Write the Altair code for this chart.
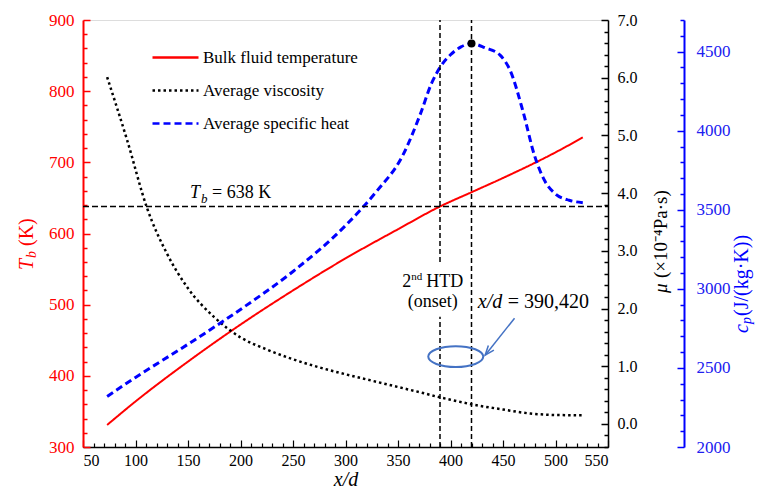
import altair as alt
import pandas as pd

FONT = "Liberation Serif"

# ---------------- data ----------------
t_xd = [73, 100, 150, 200, 250, 300, 350, 390, 420, 450, 500, 526]
t_val = [331, 364, 420, 472, 520, 565, 606, 638, 658, 678, 714, 735]

mu_xd = [73, 92, 111, 130, 150, 175, 200, 225, 250, 275, 300, 325, 350, 375, 390, 400, 420, 450, 476, 500, 526]
mu_val = [6.01, 4.92, 3.74, 2.95, 2.35, 1.85, 1.50, 1.29, 1.12, 0.98, 0.86, 0.75, 0.64, 0.53, 0.46, 0.42, 0.34, 0.25, 0.18, 0.155, 0.15]

cp_xd = [73, 100, 150, 200, 250, 300, 330, 354, 371, 382, 390, 400, 410, 420, 433, 447, 457, 469, 480, 490, 500, 513, 526]
cp_val = [2320, 2440, 2650, 2870, 3110, 3400, 3620, 3837, 4100, 4300, 4400, 4480, 4530, 4551, 4524, 4479, 4378, 4123, 3843, 3680, 3600, 3560, 3545]

series_names = ["Bulk fluid temperature", "Average viscosity", "Average specific heat"]
series_colors = ["#FF0000", "#000000", "#0000FF"]
series_dashes = [[1, 0], [2.5, 3], [7, 4]]

x_domain = [50, 550]
t_domain = [300, 900]
mu_domain = [-0.4, 7.0]
cp_domain = [2000, 4700]

x_major = [50, 100, 150, 200, 250, 300, 350, 400, 450, 500, 550]
x_minor = list(range(50, 551, 10))
t_major = [300, 400, 500, 600, 700, 800, 900]
t_minor = list(range(300, 901, 20))
mu_major = [0, 1, 2, 3, 4, 5, 6, 7]
mu_minor = [round(-0.4 + 0.2 * i, 1) for i in range(38)]
cp_major = [2000, 2500, 3000, 3500, 4000, 4500]
cp_minor = list(range(2000, 4701, 100))

tb_value = 638
htd_onset, htd_peak = 390, 420
peak_cp = 4551
gap_lo, gap_hi = 483, 560          # gap of the onset line behind its label
ellipse_xd, ellipse_t = 405, 427
arrow_from = (461, 481)
arrow_to = (433, 429)

W, H = 525, 427
RED, BLUE, ANN = "#FF0000", "#0000FF", "#4472C4"

df_t = pd.DataFrame({"xd": t_xd, "val": t_val, "series": series_names[0]})
df_mu = pd.DataFrame({"xd": mu_xd, "val": mu_val, "series": series_names[1]})
df_cp = pd.DataFrame({"xd": cp_xd, "val": cp_val, "series": series_names[2]})

xs = alt.Scale(domain=x_domain, nice=False, zero=False)
ts = alt.Scale(domain=t_domain, nice=False, zero=False)
ms = alt.Scale(domain=mu_domain, nice=False, zero=False)
cs = alt.Scale(domain=cp_domain, nice=False, zero=False)


def major(test, big=7, small=4):
    return {"condition": {"test": test, "value": big}, "value": small}


leg = alt.Legend(title=None, orient="none", legendX=68, legendY=13, symbolType="stroke",
                 symbolSize=2116, symbolStrokeWidth=2.5, labelFont=FONT, labelFontSize=17,
                 labelColor="black", labelOffset=3, rowPadding=-18, padding=0, labelLimit=400)
color_enc = alt.Color("series:N", scale=alt.Scale(domain=series_names, range=series_colors), legend=leg)
dash_enc = alt.StrokeDash("series:N", scale=alt.Scale(domain=series_names, range=series_dashes), legend=leg)

x_main = alt.X("xd:Q", scale=xs, axis=alt.Axis(
    values=x_major, ticks=False, grid=False, domainColor="black", domainWidth=1.5,
    labelFont=FONT, labelFontSize=16, labelColor="black", labelPadding=5,
    title="x/d", titleFont=FONT, titleFontSize=20, titleFontStyle="italic", titleFontWeight="normal",
    titleColor="black", titleBaseline="middle", titleY=32))
x_none = alt.X("xd:Q", scale=xs, axis=None)

red = alt.Chart(df_t).mark_line(strokeWidth=2, interpolate="monotone").encode(
    x=x_main,
    y=alt.Y("val:Q", scale=ts, axis=alt.Axis(
        orient="left", values=t_major, ticks=False, grid=False, domainColor=RED, domainWidth=2,
        labelFont=FONT, labelFontSize=17, labelColor=RED, labelPadding=9, title=None)),
    color=color_enc, strokeDash=dash_enc)

t_ticks = alt.Chart(df_t).mark_line(opacity=0).encode(
    x=alt.X("xd:Q", scale=xs, axis=alt.Axis(
        orient="top", offset=-H, values=x_minor, labels=False, domain=False, grid=False,
        tickColor="black", tickWidth=1.2, tickSize=major("datum.value % 50 === 0"), title=None)),
    y=alt.Y("val:Q", scale=ts, axis=alt.Axis(
        orient="right", offset=-W, values=t_minor, labels=False, domain=False, grid=False,
        tickColor=RED, tickWidth=1.5, tickSize=major("datum.value % 100 === 0"), title=None)))

visc = alt.Chart(df_mu).mark_line(strokeWidth=2.5, interpolate="monotone").encode(
    x=x_none,
    y=alt.Y("val:Q", scale=ms, axis=alt.Axis(
        orient="right", values=mu_major, format=".1f", ticks=False, grid=False,
        domainColor="black", domainWidth=1.5, labelFont=FONT, labelFontSize=16,
        labelColor="black", labelPadding=9, title=None)),
    color=color_enc, strokeDash=dash_enc)

mu_ticks = alt.Chart(df_mu).mark_line(opacity=0).encode(
    x=x_none,
    y=alt.Y("val:Q", scale=ms, axis=alt.Axis(
        orient="left", offset=-W, values=mu_minor, labels=False, domain=False, grid=False,
        tickColor="black", tickWidth=1.5,
        tickSize=major("abs(datum.value - round(datum.value)) < 0.001"), title=None)))

cp = alt.Chart(df_cp).mark_line(strokeWidth=3, interpolate="monotone").encode(
    x=x_none,
    y=alt.Y("val:Q", scale=cs, axis=alt.Axis(
        orient="right", offset=76, values=cp_major, format="d", ticks=False, grid=False,
        domainColor=BLUE, domainWidth=2, labelFont=FONT, labelFontSize=17,
        labelColor="#2020F0", labelPadding=12, title=None)),
    color=color_enc, strokeDash=dash_enc)

cp_ticks = alt.Chart(df_cp).mark_line(opacity=0).encode(
    x=x_none,
    y=alt.Y("val:Q", scale=cs, axis=alt.Axis(
        orient="left", offset=-(W + 76), values=cp_minor, labels=False, domain=False, grid=False,
        tickColor=BLUE, tickWidth=1.5, tickSize=major("datum.value % 500 === 0"), title=None)))

# reference lines
hline = alt.Chart(pd.DataFrame({"x1": [x_domain[0]], "x2": [x_domain[1]], "val": [tb_value]})).mark_rule(
    color="black", strokeWidth=1.5, strokeDash=[6, 3]).encode(
    x=alt.X("x1:Q", scale=xs, axis=None), x2="x2:Q", y=alt.Y("val:Q", scale=ts, axis=None))

vlines = alt.Chart(pd.DataFrame({
    "xd": [htd_onset, htd_onset, htd_peak],
    "y1": [t_domain[0], gap_hi, t_domain[0]],
    "y2": [gap_lo, t_domain[1], t_domain[1]]})).mark_rule(
    color="black", strokeWidth=1.5, strokeDash=[5, 3]).encode(
    x=x_none, y=alt.Y("y1:Q", scale=ts, axis=None), y2="y2:Q")

dot = alt.Chart(pd.DataFrame({"xd": [htd_peak], "val": [peak_cp]})).mark_point(
    filled=True, size=64, color="black", opacity=1).encode(
    x=x_none, y=alt.Y("val:Q", scale=cs, axis=None))

ELLIPSE = "M -1 0 A 1 0.38 0 1 1 1 0 A 1 0.38 0 1 1 -1 0 Z"
ellipse = alt.Chart(pd.DataFrame({"xd": [ellipse_xd], "val": [ellipse_t]})).mark_point(
    shape=ELLIPSE, size=3025, filled=False, stroke=ANN, strokeWidth=2, opacity=1).encode(
    x=x_none, y=alt.Y("val:Q", scale=ts, axis=None))

arrow_line = alt.Chart(pd.DataFrame({"x1": [arrow_from[0]], "y1": [arrow_from[1]],
                                     "x2": [arrow_to[0]], "y2": [arrow_to[1]]})).mark_rule(
    color=ANN, strokeWidth=1.5).encode(
    x=alt.X("x1:Q", scale=xs, axis=None), x2="x2:Q",
    y=alt.Y("y1:Q", scale=ts, axis=None), y2="y2:Q")

CHEVRON = "M -0.75 2 L 0 0 L 0.75 2"
arrow_head = alt.Chart(pd.DataFrame({"xd": [arrow_to[0]], "val": [arrow_to[1]]})).mark_point(
    shape=CHEVRON, size=90, angle=219, filled=False, stroke=ANN, strokeWidth=1.5, opacity=1).encode(
    x=x_none, y=alt.Y("val:Q", scale=ts, axis=None))


def dtext(text, xd, val, size=18, style="normal", align="left", dx=0, dy=0, color="black"):
    return alt.Chart(pd.DataFrame({"xd": [xd], "val": [val]})).mark_text(
        text=text, font=FONT, fontSize=size, fontStyle=style, align=align, baseline="middle",
        dx=dx, dy=dy, color=color).encode(x=x_none, y=alt.Y("val:Q", scale=ts, axis=None))


def ptext(text, px, py, size=20, style="normal", dx=0, dy=0, color="black", angle=270):
    return alt.Chart(pd.DataFrame({"a": [0]})).mark_text(
        text=text, font=FONT, fontSize=size, fontStyle=style, align="left", baseline="middle",
        dx=dx, dy=dy, color=color, angle=angle).encode(x=alt.value(px), y=alt.value(py))


annotations = [
    dtext("T", 152, 657, 18, "italic"),
    dtext("b", 152, 657, 13, "italic", dx=11, dy=6),
    dtext("= 638 K", 152, 657, 18, dx=22),
    dtext("2", 354, 532, 18),
    dtext("nd", 354, 532, 11, dx=9, dy=-5),
    dtext("HTD", 354, 532, 18, dx=24),
    dtext("(onset)", 383, 504, 18, align="center"),
    dtext("x/d", 426, 504, 20, "italic"),
    dtext("= 390,420", 426, 504, 20, dx=30),
    # axis titles
    ptext("T", -56, 250, 20, "italic", color=RED),
    ptext("b", -56, 250, 14, "italic", dx=12, dy=5, color=RED),
    ptext("(K)", -56, 250, 20, dx=24, color=RED),
    ptext("\u03bc", 578, 273, 19, "italic"),
    ptext("(\u00d710\u207b\u2074Pa\u00b7s)", 578, 273, 19, dx=15),
    ptext("c", 659, 313, 20, "italic", color=BLUE),
    ptext("p", 659, 313, 14, "italic", dx=9, dy=5, color=BLUE),
    ptext("(J/(kg\u00b7K))", 659, 313, 20, dx=17, color=BLUE),
]

chart = alt.layer(
    red, t_ticks, visc, mu_ticks, cp, cp_ticks, hline, vlines, dot, ellipse, arrow_line, arrow_head,
    *annotations
).resolve_scale(y="independent").resolve_axis(x="independent", y="independent").properties(
    width=W, height=H,
    autosize=alt.AutoSizeParams(type="none"),
    padding={"left": 83, "top": 20, "right": 758 - 83 - W, "bottom": 490 - 20 - H},
).configure_view(stroke="black", strokeWidth=1.5).configure(background="white")

chart.save("out.html", embed_options={"renderer": "svg", "actions": False})
